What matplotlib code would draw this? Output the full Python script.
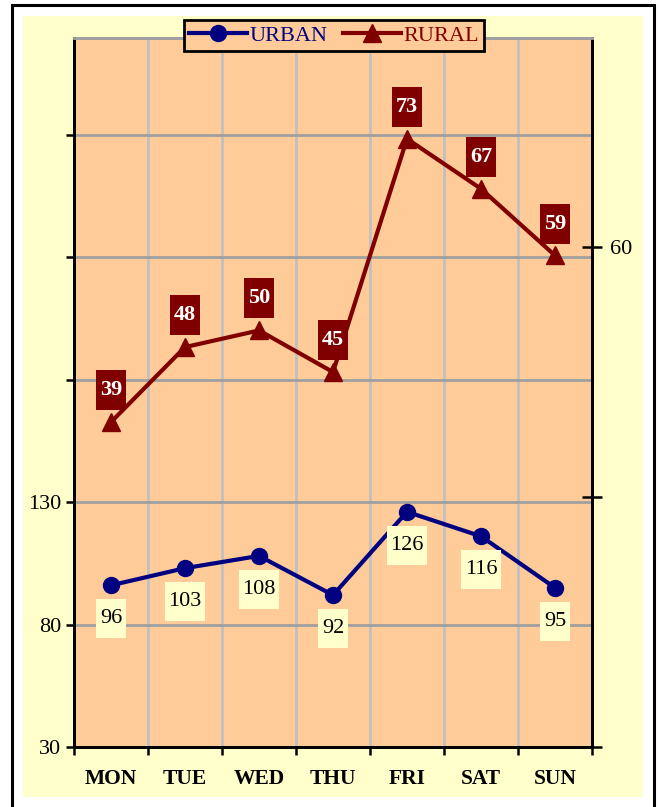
import matplotlib.pyplot as plt
from matplotlib.patches import Rectangle
from matplotlib.path import Path
from matplotlib.ticker import FixedLocator, FixedFormatter

# chart data
days = ['MON', 'TUE', 'WED', 'THU', 'FRI', 'SAT', 'SUN']
urban = [96, 103, 108, 92, 126, 116, 95]
rural = [39, 48, 50, 45, 73, 67, 59]

left_ticks = [30, 80, 130, 180, 230, 280]
left_labels = ['30', '80', '130', '', '', '']
right_ticks = [0, 30, 60]
right_labels = ['', '', '60']

peach = '#FFCC99'
cream = '#FFFFCC'
navy = '#000080'
maroon = '#800000'
serif = ['Liberation Serif', 'DejaVu Serif']

plt.rcParams['font.family'] = serif


# label box: a bit taller than wide padding, like the Excel data labels
def tall_box(x0, y0, width, height, mutation_size):
    px = 0.17 * mutation_size
    py = 0.45 * mutation_size
    x0, y0 = x0 - px, y0 - py
    x1, y1 = x0 + width + 2 * px, y0 + height + 2 * py
    return Path([(x0, y0), (x1, y0), (x1, y1), (x0, y1), (x0, y0)], closed=True)


W, H = 660, 807
fig = plt.figure(figsize=(W / 100, H / 100), dpi=100)
fig.patch.set_facecolor('white')

# cream chart area and black outer frame
fig.patches.append(Rectangle((23 / W, 10 / H), 620 / W, 781 / H, transform=fig.transFigure,
                             facecolor=cream, edgecolor='none', zorder=-2))
fig.patches.append(Rectangle((12 / W, -0.02), 642 / W, 1.02 - 5 / H, transform=fig.transFigure,
                             facecolor='none', edgecolor='black', lw=2.2, zorder=-1))

ax = fig.add_axes([74 / W, 60 / H, 518 / W, 709 / H])
ax.set_facecolor(peach)
ax2 = ax.twinx()

x = list(range(len(days)))
ln1, = ax.plot(x, urban, color=navy, lw=3, marker='o', markersize=11.5, label='URBAN', zorder=3)
ln2, = ax2.plot(x, rural, color=maroon, lw=3, marker='^', markersize=12.5, label='RURAL', zorder=3)

ax.set_xlim(-0.5, len(days) - 0.5)
ax.set_ylim(30, 319.4)
ax2.set_ylim(0, 85.1)

# x axis: labels at centres, ticks and grid at category boundaries
ax.xaxis.set_major_locator(FixedLocator(x))
ax.xaxis.set_major_formatter(FixedFormatter(days))
ax.xaxis.set_minor_locator(FixedLocator([i - 0.5 for i in range(len(days) + 1)]))
ax.tick_params(axis='x', which='major', length=0, pad=16, labelsize=15.5)
ax.tick_params(axis='x', which='minor', length=6, width=1.8, direction='out', color='black')
for t in ax.get_xticklabels():
    t.set_fontweight('bold')
ax.grid(True, axis='x', which='minor', color='#C0C0C0', lw=2)

ax.yaxis.set_major_locator(FixedLocator(left_ticks))
ax.yaxis.set_major_formatter(FixedFormatter(left_labels))
ax.tick_params(axis='y', length=6, width=1.8, direction='out', labelsize=16, pad=3)
ax.grid(True, axis='y', which='major', color='#A0A0A0', lw=2)
ax.set_axisbelow(True)

ax2.yaxis.set_major_locator(FixedLocator(right_ticks))
ax2.yaxis.set_major_formatter(FixedFormatter(right_labels))
ax2.tick_params(axis='y', length=14, width=1.8, direction='inout', labelsize=16, pad=6)

for a in (ax, ax2):
    for side in ('left', 'right', 'bottom'):
        a.spines[side].set_color('black')
        a.spines[side].set_linewidth(2)
    a.spines['top'].set_color('#A0A0A0')
    a.spines['top'].set_linewidth(2)

# data labels
for xi, v in zip(x, urban):
    ax.annotate(str(v), (xi, v), xytext=(0, -24), textcoords='offset points',
                ha='center', va='center', fontsize=16, color='black', zorder=4,
                bbox=dict(boxstyle=tall_box, facecolor=cream, edgecolor='none'))
for xi, v in zip(x, rural):
    ax2.annotate(str(v), (xi, v), xytext=(0, 23), textcoords='offset points',
                 ha='center', va='center', fontsize=16, color='white', fontweight='bold', zorder=4,
                 bbox=dict(boxstyle=tall_box, facecolor=maroon, edgecolor='none'))

leg = fig.legend([ln1, ln2], ['URBAN', 'RURAL'], loc='center', ncol=2,
                 bbox_to_anchor=(334 / W, 1 - 35.5 / H), bbox_transform=fig.transFigure,
                 fontsize=16, handlelength=2.6, handletextpad=0.1, columnspacing=0.7,
                 borderpad=0.25, fancybox=False, framealpha=1, facecolor=peach, edgecolor='black')
leg.get_frame().set_linewidth(2)
for t, c in zip(leg.get_texts(), [navy, maroon]):
    t.set_color(c)

fig.savefig('out.png', dpi=100)
